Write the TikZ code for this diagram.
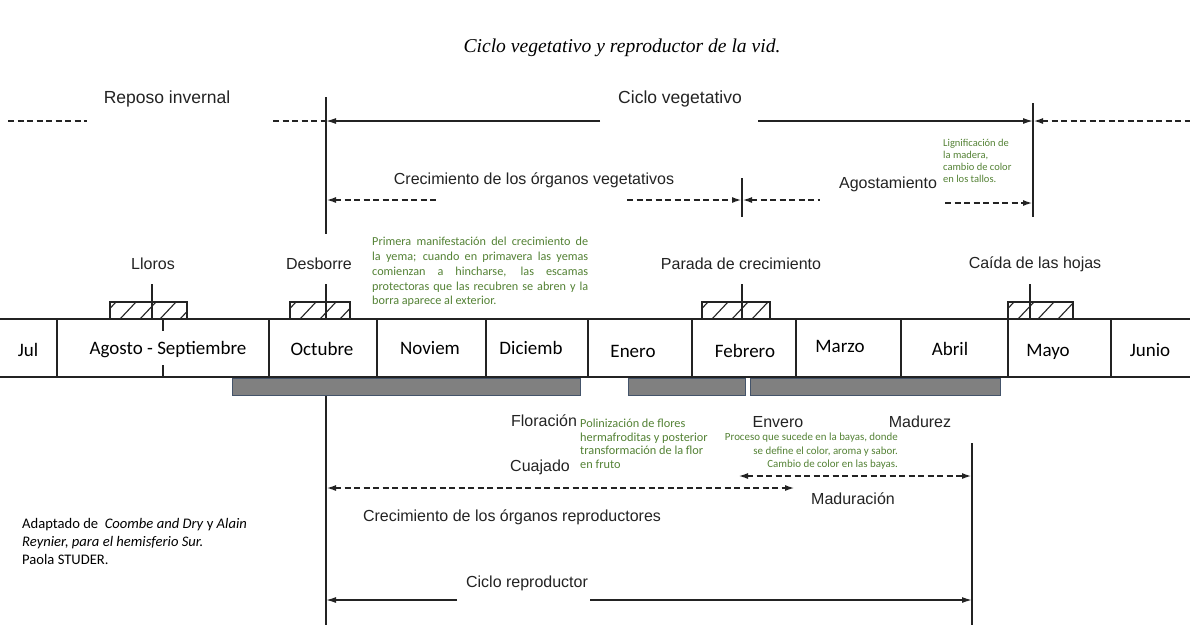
\documentclass[tikz,border=0pt]{standalone}
\usepackage{fontspec}
\setmainfont{Liberation Sans}
\newfontfamily\calfont{Carlito}
\newfontfamily\titfont{Liberation Serif}
\usetikzlibrary{arrows.meta}
\definecolor{grn}{RGB}{84,130,53}
\definecolor{ink}{RGB}{35,35,35}
\definecolor{barfill}{RGB}{128,128,128}
\definecolor{barline}{RGB}{68,84,106}
\begin{document}
\begin{tikzpicture}[x=1pt,y=-1pt,
  lbl/.style={font=\fontsize{16}{18}\selectfont, text=ink, inner sep=0pt},
  biglbl/.style={font=\fontsize{17.5}{19}\selectfont, text=ink, inner sep=0pt},
  mon/.style={font=\calfont\fontsize{19}{21}\selectfont, text=black, inner sep=0pt},
  gnote/.style={text=grn, inner sep=0pt},
  sline/.style={line width=1.4pt, draw=ink},
  dline/.style={line width=2pt, draw=ink, dash pattern=on 6pt off 3.5pt},
  tipe/.style={-{Latex[length=10pt,width=6pt]}},
  tipb/.style={{Latex[length=10pt,width=6pt]}-},
  tipbb/.style={{Latex[length=10pt,width=6pt]}-{Latex[length=10pt,width=6pt]}},
  band/.style={line width=1.3pt, draw=ink},
  hbox/.style={line width=1.3pt, draw=ink},
  gbar/.style={fill=barfill, draw=barline, line width=0.8pt}]
\useasboundingbox (0,0) rectangle (1190,625);
\fill[white] (0,0) rectangle (1190,625);

% title
\node[inner sep=0pt] (title) at (622,48) {\titfont\itshape\fontsize{19.6}{22}\selectfont Ciclo vegetativo y reproductor de la vid.};

% main vertical lines
\coordinate (vLt) at (326,97);   \coordinate (vLb) at (326,234);
\coordinate (vLt2) at (326,395); \coordinate (vLb2) at (326,625);
\coordinate (vRt) at (1033,103); \coordinate (vRb) at (1033,217);
\coordinate (vPt) at (742,178);  \coordinate (vPb) at (742,217);
\coordinate (vMt) at (972,443);  \coordinate (vMb) at (972,625);
\draw[sline] (vLt) -- (vLb);
\draw[sline] (vLt2) -- (vLb2);
\draw[sline] (vRt) -- (vRb);
\draw[sline] (vPt) -- (vPb);
\draw[sline] (vMt) -- (vMb);

% row 1: reposo / ciclo vegetativo
\node[biglbl] (reposo) at (167,99) {Reposo invernal};
\node[biglbl] (cveg) at (680,99) {Ciclo vegetativo};
\coordinate (r1a) at (8,121);   \coordinate (r1b) at (87,121);
\coordinate (r1c) at (273,121); \coordinate (r1d) at (326,121);
\coordinate (r1e) at (600,121); \coordinate (r1f) at (758,121);
\coordinate (r1g) at (1033,121); \coordinate (r1h) at (1190,121);
\draw[dline] (r1a) -- (r1b);
\draw[dline] (r1c) -- (r1d);
\draw[sline, tipe] (r1e) -- (r1d);
\draw[sline, tipe] (r1f) -- (r1g);
\draw[dline, tipb] (r1g) -- (r1h);

% row 2: crecimiento vegetativo / agostamiento
\node[lbl] (crecveg) at (534,180) {Crecimiento de los órganos vegetativos};
\node[lbl] (agost) at (888,184) {Agostamiento};
\coordinate (r2a) at (326,200); \coordinate (r2b) at (438,200);
\coordinate (r2c) at (627,200); \coordinate (r2d) at (742,200);
\coordinate (r2e) at (820,200);
\coordinate (r2f) at (945,203); \coordinate (r2g) at (1033,203);
\draw[dline, tipb] (r2a) -- (r2b);
\draw[dline, tipe] (r2c) -- (r2d);
\draw[dline, tipb] (r2d) -- (r2e);
\draw[dline, tipe] (r2f) -- (r2g);
\node[gnote, anchor=north west, align=left, font=\calfont\fontsize{10.5}{12}\selectfont] (lign) at (943,139)
  {Lignificación de\\la madera,\\cambio de color\\en los tallos.};

% row 3: events
\node[lbl] (lloros) at (153,264) {Lloros};
\node[lbl] (desb) at (319,264) {Desborre};
\node[lbl] (parada) at (741,264) {Parada de crecimiento};
\node[lbl] (caida) at (1035,264) {Caída de las hojas};
\node[gnote, anchor=north west, text width=216pt, align=justify, font=\calfont\fontsize{12.2}{14.8}\selectfont] (primera) at (372,237)
  {\hyphenpenalty=10000\tolerance=10000 Primera manifestación del crecimiento de\linebreak la yema; cuando en primavera las yemas\linebreak comienzan a hincharse, las escamas\linebreak protectoras que las recubren se abren y la\linebreak borra aparece al exterior.};

% hatched boxes and ticks
\foreach \nm/\xa/\xb/\xt in {bl/110/187/152, bd/290/350/326, bp/702/770/742, bc/1008/1073/1030}{
  \coordinate (\nm1) at (\xa,302);
  \coordinate (\nm2) at (\xb,319);
  \coordinate (\nm3) at (\xt,284);
  \coordinate (\nm4) at (\xt,319);
  \begin{scope}
    \clip (\nm1) rectangle (\nm2);
    \foreach \k in {-10,10,...,90}{
      \draw[line width=1.1pt, ink] (\xa+\k,319) -- (\xa+\k+16,302);
    }
  \end{scope}
  \draw[hbox] (\nm1) rectangle (\nm2);
  \draw[sline] (\nm3) -- (\nm4);
}
\coordinate (tk1) at (163,319); \coordinate (tk2) at (163,331);
\coordinate (tk3) at (163,365); \coordinate (tk4) at (163,377);
\draw[line width=1.1pt, ink] (tk1) -- (tk2);
\draw[line width=1.1pt, ink] (tk3) -- (tk4);

% month band
\coordinate (bt1) at (0,319); \coordinate (bt2) at (1190,319);
\coordinate (bb1) at (0,377); \coordinate (bb2) at (1190,377);
\draw[band] (bt1) -- (bt2);
\draw[band] (bb1) -- (bb2);
\foreach \x in {57,269,377,486,588,692,796,901,1008,1111}{
  \draw[band] (\x,319) -- (\x,377);
}
\node[mon] (jul) at (28,350) {Jul};
\node[mon] (agsep) at (168,350) {Agosto - Septiembre};
\node[mon] (oct) at (322,349) {Octubre};
\node[mon] (nov) at (430,348) {Noviem};
\node[mon] (dic) at (531,348) {Diciemb};
\node[mon] (ene) at (633,351) {Enero};
\node[mon] (feb) at (745,351) {Febrero};
\node[mon] (mar) at (840,346) {Marzo};
\node[mon] (abr) at (950,349) {Abril};
\node[mon] (may) at (1048,352) {Mayo};
\node[mon] (jun) at (1150,350) {Junio};

% gray bars
\draw[gbar] (232,378) rectangle (580,395);
\draw[gbar] (628,378) rectangle (745,395);
\draw[gbar] (750,378) rectangle (1000,395);

% reproductive part
\node[lbl] (flor) at (544,421) {Floración};
\node[lbl] (cuaj) at (540,467) {Cuajado};
\node[lbl] (enve) at (778,422) {Envero};
\node[lbl] (madz) at (920,422) {Madurez};
\node[lbl] (madc) at (853,499) {Maduración};
\node[lbl] (crecrep) at (512,517) {Crecimiento de los órganos reproductores};
\node[lbl] (crep) at (527,583) {Ciclo reproductor};
\node[gnote, anchor=north west, align=left, font=\calfont\fontsize{12.3}{13.6}\selectfont] (polin) at (580,419)
  {Polinización de flores\\hermafroditas y posterior\\transformación de la flor\\en fruto};
\node[gnote, anchor=north east, align=right, font=\calfont\fontsize{10.9}{13.5}\selectfont] (proc) at (898,433)
  {Proceso que sucede en la bayas, donde\\se define el color, aroma y sabor.\\Cambio de color en las bayas.};

\coordinate (b1a) at (326,488); \coordinate (b1b) at (795,488);
\draw[dline, tipbb] (b1a) -- (b1b);
\coordinate (b2a) at (738,476); \coordinate (b2b) at (972,476);
\draw[dline, tipbb] (b2a) -- (b2b);
\coordinate (b3a) at (326,600); \coordinate (b3b) at (457,600);
\coordinate (b3c) at (590,600); \coordinate (b3d) at (972,600);
\draw[sline, tipe] (b3b) -- (b3a);
\draw[sline, tipe] (b3c) -- (b3d);

% credits
\node[anchor=north west, align=left, inner sep=0pt, font=\calfont\fontsize{14.6}{18}\selectfont] (cred) at (22,518)
  {Adaptado de \ \textit{Coombe and Dry} y \textit{Alain}\\\textit{Reynier, para el hemisferio Sur.}\\Paola STUDER.};
\end{tikzpicture}
\end{document}
